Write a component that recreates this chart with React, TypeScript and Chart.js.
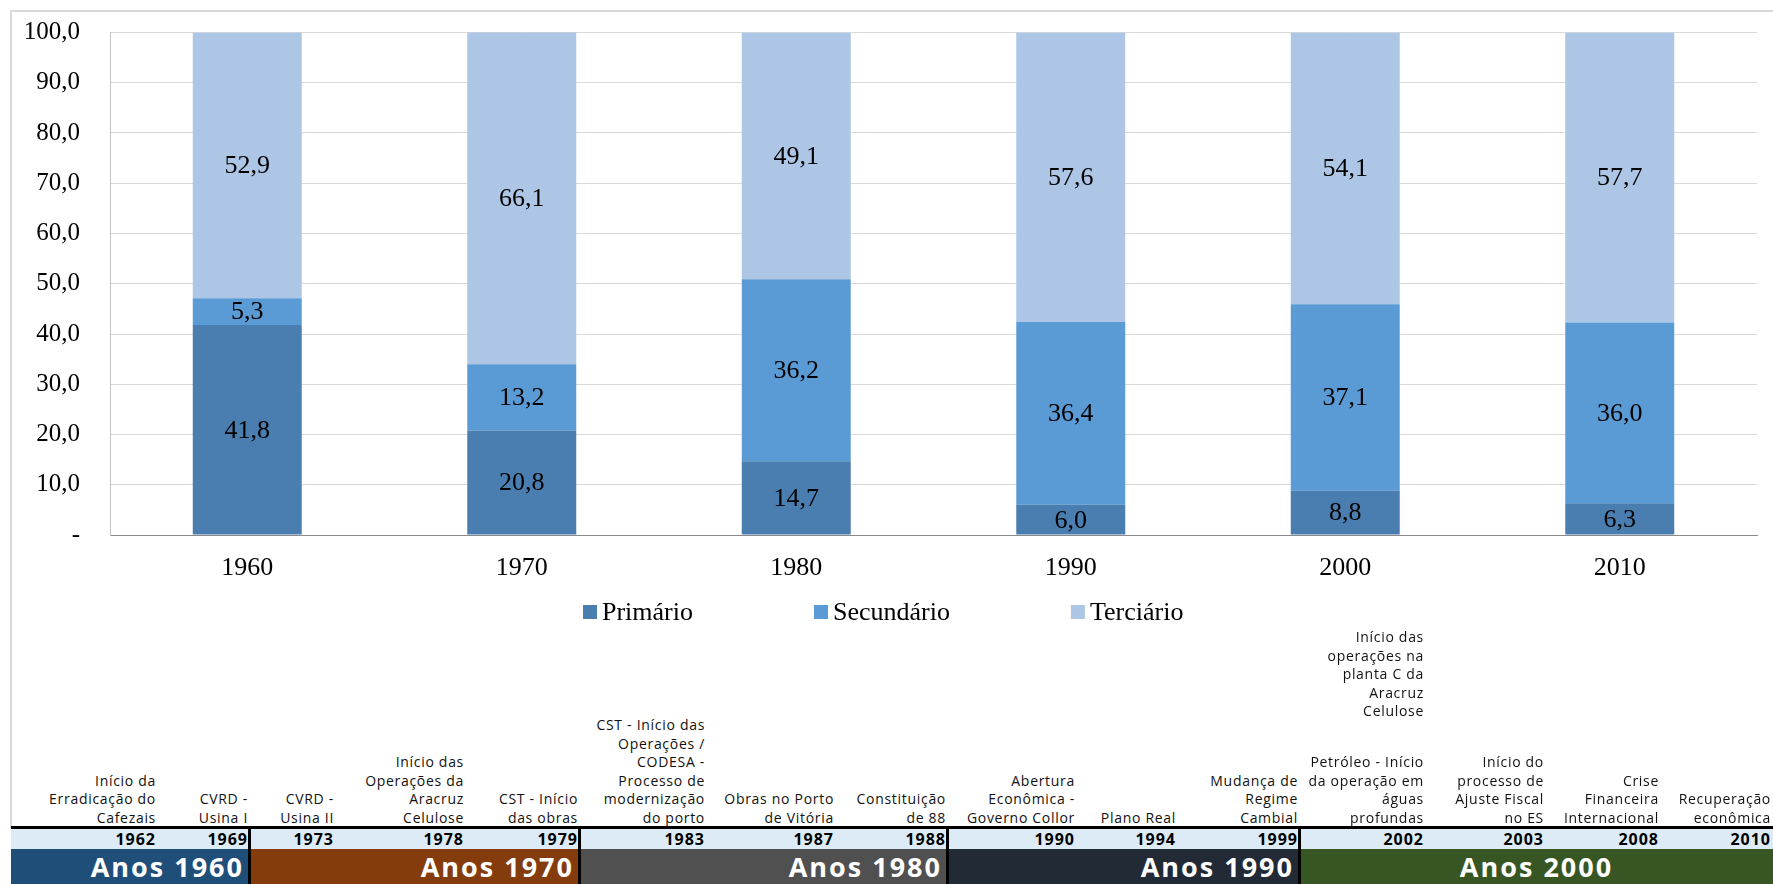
import React, { useEffect, useRef } from "react";
import { Chart, registerables } from "chart.js";

Chart.register(...registerables);

// ---------- DATA ----------
const categories = ["1960", "1970", "1980", "1990", "2000", "2010"];
const primarioValues = [41.8, 20.8, 14.7, 6.0, 8.8, 6.3];
const secundarioValues = [5.3, 13.2, 36.2, 36.4, 37.1, 36.0];
const terciarioValues = [52.9, 66.1, 49.1, 57.6, 54.1, 57.7];
const seriesLabels = ["Primário", "Secundário", "Terciário"];
const yAxisMax = 100;
const yAxisStep = 10;

const eventYears = [
  "1962", "1969", "1973", "1978", "1979", "1983", "1987", "1988",
  "1990", "1994", "1999", "2002", "2003", "2008", "2010",
];
const eventTexts = [
  ["Início da", "Erradicação do", "Cafezais"],
  ["CVRD -", "Usina I"],
  ["CVRD -", "Usina II"],
  ["Início das", "Operações da", "Aracruz", "Celulose"],
  ["CST - Início", "das obras"],
  ["CST - Início das", "Operações /", "CODESA -", "Processo de", "modernização", "do porto"],
  ["Obras no Porto", "de Vitória"],
  ["Constituição", "de 88"],
  ["Abertura", "Econômica -", "Governo Collor"],
  ["Plano Real"],
  ["Mudança de", "Regime", "Cambial"],
  ["Petróleo - Início", "da operação em", "águas", "profundas"],
  ["Início do", "processo de", "Ajuste Fiscal", "no ES"],
  ["Crise", "Financeira", "Internacional"],
  ["Recuperação", "econômica"],
];
const eventUpperTexts = [
  [], [], [], [], [], [], [], [], [], [], [],
  ["Início das", "operações na", "planta C da", "Aracruz", "Celulose"],
  [], [], [],
];
const decadeLabels = ["Anos 1960", "Anos 1970", "Anos 1980", "Anos 1990", "Anos 2000"];
const decadeEventCounts = [2, 3, 3, 3, 4];

// ---------- STYLES / LAYOUT ----------
const seriesColors = ["#4a7eb0", "#5b9bd5", "#adc6e6"];
const decadeColors = ["#1f4e79", "#843c0c", "#505050", "#222a35", "#375623"];
const decadeTextAlign = ["right", "right", "right", "right", "center"];
const columnWidths = [147, 92, 86, 130, 114, 127, 129, 112, 129, 101, 122, 126, 120, 115, 112];
const SERIF = '"Liberation Serif", "Times New Roman", serif';
const SANS = '"Open Sans", "Noto Sans", sans-serif';
const FONT_SIZE = 26;

const fmt = (v: number) => v.toFixed(1).replace(".", ",");

const dataLabelPlugin = {
  id: "dataLabels",
  afterDatasetsDraw(chart: any) {
    const ctx = chart.ctx;
    ctx.save();
    ctx.font = `${FONT_SIZE}px ${SERIF}`;
    ctx.fillStyle = "#000";
    ctx.textAlign = "center";
    ctx.textBaseline = "middle";
    chart.data.datasets.forEach((ds: any, i: number) => {
      const meta = chart.getDatasetMeta(i);
      meta.data.forEach((bar: any, j: number) => {
        const p = bar.getProps(["x", "y", "base"], true);
        const yc = (p.y + p.base) / 2;
        ctx.fillText(fmt(ds.data[j]), p.x, yc + 1);
      });
    });
    ctx.restore();
  },
};

const legendPlugin = {
  id: "customLegend",
  afterDraw(chart: any) {
    const ctx = chart.ctx;
    ctx.save();
    ctx.font = `${FONT_SIZE}px ${SERIF}`;
    ctx.textBaseline = "middle";
    ctx.textAlign = "left";
    let x = 571;
    const y = 600;
    chart.data.datasets.forEach((ds: any) => {
      ctx.fillStyle = ds.backgroundColor;
      ctx.fillRect(x, y - 7, 14, 14);
      ctx.fillStyle = "#000";
      ctx.fillText(ds.label, x + 19, y + 1);
      x += 19 + ctx.measureText(ds.label).width + 121;
    });
    ctx.restore();
  },
};

function BarChart() {
  const ref = useRef<HTMLCanvasElement | null>(null);
  useEffect(() => {
    if (!ref.current) return;
    const values = [primarioValues, secundarioValues, terciarioValues];
    const chart = new Chart(ref.current, {
      type: "bar",
      data: {
        labels: categories,
        datasets: seriesLabels.map((label, i) => ({
          label,
          data: values[i],
          backgroundColor: seriesColors[i],
          borderWidth: 0,
          categoryPercentage: 1,
          barPercentage: 0.397,
        })),
      },
      options: {
        responsive: false,
        animation: false,
        devicePixelRatio: 1,
        layout: { padding: { left: 0, right: 16, top: 20.5, bottom: 33 } },
        plugins: {
          legend: { display: false },
          tooltip: { enabled: false },
        },
        scales: {
          x: {
            stacked: true,
            grid: { display: false, drawTicks: false },
            border: { color: "#8a8a8a", width: 1 },
            ticks: {
              color: "#000",
              padding: 18,
              font: { family: SERIF, size: FONT_SIZE },
            },
            afterFit: (scale: any) => {
              scale.height = 60;
            },
          },
          y: {
            stacked: true,
            min: 0,
            max: yAxisMax,
            grid: { color: "#d9d9d9", lineWidth: 1, drawTicks: false },
            border: { color: "#c4c4c4", width: 1 },
            ticks: {
              stepSize: yAxisStep,
              color: "#000",
              padding: 30,
              font: { family: SERIF, size: FONT_SIZE - 1 },
              callback: (v: any) => (Number(v) === 0 ? "-" : fmt(Number(v))),
            },
            afterFit: (scale: any) => {
              scale.width = 98;
              scale.paddingTop = 0;
              scale.paddingBottom = 0;
            },
          },
        },
      },
      plugins: [dataLabelPlugin, legendPlugin],
    });
    return () => chart.destroy();
  }, []);
  return (
    <canvas
      ref={ref}
      width={1761}
      height={616}
      style={{ position: "absolute", left: 12, top: 12, width: 1761, height: 616 }}
    />
  );
}

function Timeline() {
  const left0 = 11;
  const starts: number[] = [];
  let acc = left0;
  columnWidths.forEach((w) => {
    starts.push(acc);
    acc += w;
  });
  const groups: { label: string; cols: number[] }[] = [];
  let idx = 0;
  decadeLabels.forEach((label, g) => {
    const cols: number[] = [];
    for (let k = 0; k < decadeEventCounts[g]; k++) cols.push(idx++);
    groups.push({ label, cols });
  });
  const eventStyle: React.CSSProperties = {
    position: "absolute",
    right: 2,
    textAlign: "right",
    fontFamily: SANS,
    fontSize: 14,
    lineHeight: "18.5px",
    letterSpacing: "0.7px",
    color: "#111",
    whiteSpace: "nowrap",
  };
  return (
    <>
      {eventYears.map((y, i) => (
        <div
          key={"ev" + y}
          style={{ position: "absolute", left: starts[i], top: 628, width: columnWidths[i], height: 199 }}
        >
          {eventUpperTexts[i].length > 0 && (
            <div style={{ ...eventStyle, top: 0 }}>
              {eventUpperTexts[i].map((l, k) => (
                <div key={k}>{l}</div>
              ))}
            </div>
          )}
          <div style={{ ...eventStyle, bottom: 0 }}>
            {eventTexts[i].map((l, k) => (
              <div key={k}>{l}</div>
            ))}
          </div>
        </div>
      ))}
      <div style={{ position: "absolute", left: left0, top: 829, width: 1773 - left0, height: 20, background: "#ddebf7" }} />
      {eventYears.map((y, i) => (
        <div
          key={"yr" + y}
          style={{
            position: "absolute",
            left: starts[i],
            top: 829,
            width: columnWidths[i],
            height: 20,
            lineHeight: "20px",
            textAlign: "right",
            paddingRight: 2,
            boxSizing: "border-box",
            fontFamily: SANS,
            fontWeight: 700,
            fontSize: 16,
            letterSpacing: "1px",
            color: "#000",
          }}
        >
          {y}
        </div>
      ))}
      {groups.map((g, gi) => {
        const l = starts[g.cols[0]];
        const w = g.cols.reduce((s, c) => s + columnWidths[c], 0);
        return (
          <div
            key={"dc" + gi}
            style={{
              position: "absolute",
              left: l,
              top: 849,
              width: w,
              height: 35,
              background: decadeColors[gi],
              color: "#fff",
              fontFamily: SANS,
              fontWeight: 700,
              fontSize: 27,
              letterSpacing: "2px",
              lineHeight: "35px",
              textAlign: decadeTextAlign[gi] as any,
              paddingRight: decadeTextAlign[gi] === "right" ? 6 : 0,
              boxSizing: "border-box",
              whiteSpace: "nowrap",
              overflow: "hidden",
            }}
          >
            {g.label}
          </div>
        );
      })}
      <div style={{ position: "absolute", left: left0, top: 826, width: 1773 - left0, height: 3, background: "#000" }} />
      {groups.slice(1).map((g, gi) => (
        <div
          key={"sep" + gi}
          style={{ position: "absolute", left: starts[g.cols[0]] - 2, top: 826, width: 3, height: 58, background: "#000" }}
        />
      ))}
    </>
  );
}

export default function App() {
  return (
    <div
      style={{
        position: "absolute",
        left: 0,
        top: 0,
        width: 1773,
        height: 884,
        overflow: "hidden",
        background: "#fff",
      }}
    >
      <BarChart />
      <div style={{ position: "absolute", left: 10, top: 10, width: 1763, height: 2, background: "#d9d9d9" }} />
      <div style={{ position: "absolute", left: 10, top: 10, width: 2, height: 818, background: "#d9d9d9" }} />
      <Timeline />
    </div>
  );
}
